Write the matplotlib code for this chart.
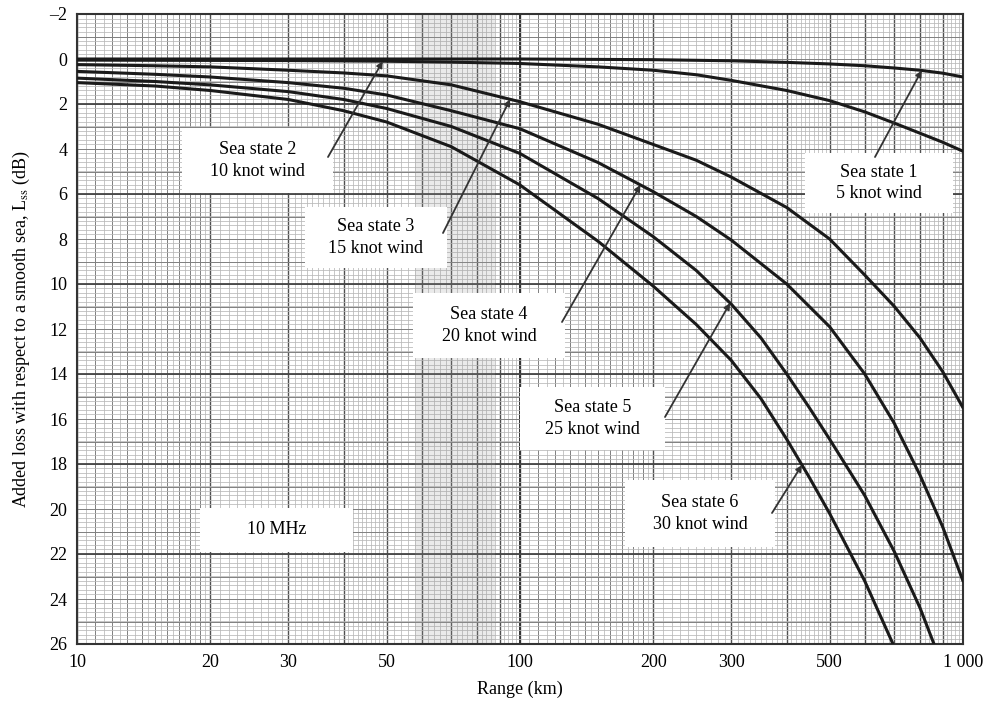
import numpy as np
import matplotlib
matplotlib.use('Agg')
import matplotlib.pyplot as plt
from matplotlib.patches import Rectangle

plt.rcParams['font.family'] = ['Liberation Serif', 'DejaVu Serif']
plt.rcParams['mathtext.fontset'] = 'stix'

# curves: range (km) -> added loss (dB)
ss1_km = [10, 50, 100, 200, 300, 400, 500, 600, 700, 800, 900, 1000]
ss1_db = [0, 0, 0, 0.03, 0.08, 0.15, 0.22, 0.3, 0.4, 0.5, 0.63, 0.8]

ss2_km = [10, 30, 50, 70, 100, 150, 200, 250, 300, 400, 500, 600, 700, 800, 900, 1000]
ss2_db = [0.05, 0.07, 0.1, 0.14, 0.2, 0.35, 0.5, 0.7, 0.95, 1.4, 1.85, 2.35, 2.85, 3.3, 3.7, 4.1]

ss3_km = [10, 15, 20, 30, 40, 50, 70, 100, 150, 200, 250, 300, 400, 500, 600, 700, 800, 900, 1000]
ss3_db = [0.25, 0.3, 0.35, 0.5, 0.62, 0.75, 1.15, 1.9, 2.9, 3.8, 4.5, 5.25, 6.6, 8.0, 9.6, 11.0, 12.4, 13.9, 15.5]

ss4_km = [10, 15, 20, 30, 40, 50, 70, 100, 150, 200, 250, 300, 400, 500, 600, 700, 800, 900, 1000]
ss4_db = [0.55, 0.68, 0.8, 1.05, 1.3, 1.6, 2.3, 3.1, 4.6, 5.9, 7.0, 8.05, 10.0, 11.9, 14.0, 16.2, 18.5, 20.8, 23.2]

ss5_km = [10, 15, 20, 30, 40, 50, 70, 100, 150, 200, 250, 300, 350, 400, 450, 500, 600, 700, 800, 860]
ss5_db = [0.85, 1.0, 1.15, 1.45, 1.8, 2.2, 3.0, 4.2, 6.2, 7.9, 9.4, 10.9, 12.4, 14.0, 15.5, 16.9, 19.4, 21.9, 24.4, 26.0]

ss6_km = [10, 15, 20, 30, 40, 50, 70, 100, 150, 200, 250, 300, 350, 400, 450, 500, 600, 695]
ss6_db = [1.05, 1.2, 1.4, 1.8, 2.3, 2.8, 3.9, 5.6, 8.1, 10.1, 11.8, 13.4, 15.1, 16.9, 18.6, 20.2, 23.2, 26.0]

labels = ['Sea state 1\n5 knot wind', 'Sea state 2\n10 knot wind', 'Sea state 3\n15 knot wind',
          'Sea state 4\n20 knot wind', 'Sea state 5\n25 knot wind', 'Sea state 6\n30 knot wind']
arrow_km = [807, 49, 95, 187, 298, 433]   # where each pointer touches its curve

xticks = [10, 20, 30, 50, 100, 200, 300, 500, 1000]
xticklabels = ['10', '20', '30', '50', '100', '200', '300', '500', '1 000']
yticks = list(range(-2, 27, 2))

series = [(ss1_km, ss1_db), (ss2_km, ss2_db), (ss3_km, ss3_db),
          (ss4_km, ss4_db), (ss5_km, ss5_db), (ss6_km, ss6_db)]

fig = plt.figure(figsize=(9.83, 7.04), dpi=100)
W, H = 983, 704
L, R, T, B = 77, 963, 14, 644
ax = fig.add_axes([L / W, 1 - B / H, (R - L) / W, (B - T) / H])
ax.set_xscale('log')
ax.set_xlim(10, 1000)
ax.set_ylim(26, -2)

# graph paper
for d in [10, 100]:
    fine = np.concatenate([np.arange(1, 2, 0.05), np.arange(2, 5, 0.1), np.arange(5, 10, 0.2)]) * d
    for v in fine:
        ax.axvline(v, color='#b8b8b8', lw=0.55, zorder=0)
    for v in np.arange(1, 2, 0.1) * d:
        ax.axvline(v, color='#808080', lw=0.7, zorder=0)
    for v in np.arange(1, 10, 1) * d:
        ax.axvline(v, color='#505050', lw=1.0, zorder=0)
ax.axvline(100, color='#333333', lw=1.4, zorder=0)
for v in np.arange(-2, 26, 0.2):
    ax.axhline(v, color='#b8b8b8', lw=0.55, zorder=0)
for v in np.arange(-2, 26, 1):
    ax.axhline(v, color='#808080', lw=0.7, zorder=0)
for v in np.arange(-2, 27, 4):
    ax.axhline(v, color='#444444', lw=1.3, zorder=0)
ax.axvspan(58, 88, color='#9a9a9a', alpha=0.2, lw=0, zorder=0)

for km, db in series:
    ax.plot(km, db, color='#1a1a1a', lw=2.2, zorder=3, solid_capstyle='round')


def fx(px):
    return (px - L) / (R - L)


def fy(py):
    return 1 - (py - T) / (B - T)


# label boxes in pixel coordinates of the reference: (x0, y0, x1, y1)
boxes = [(805, 153, 953, 213), (182, 128, 333, 193), (305, 207, 447, 268),
         (413, 293, 565, 358), (520, 387, 665, 450), (625, 480, 775, 547)]
tails = [(875, 157), (328, 157), (443, 233), (562, 322), (665, 417), (772, 513)]

for (x0, y0, x1, y1), text, tail, kx, (km, db) in zip(boxes, labels, tails, arrow_km, series):
    ax.add_patch(Rectangle((fx(x0), fy(y1)), fx(x1) - fx(x0), fy(y0) - fy(y1),
                           transform=ax.transAxes, facecolor='white', edgecolor='none', zorder=4))
    ax.text((fx(x0) + fx(x1)) / 2, (fy(y0) + fy(y1)) / 2, text, transform=ax.transAxes,
            ha='center', va='center', fontsize=13, linespacing=1.35, zorder=5)
    tip_y = np.interp(np.log10(kx), np.log10(km), db)
    ax.annotate('', xy=(kx, tip_y), xycoords='data',
                xytext=(fx(tail[0]), fy(tail[1])), textcoords='axes fraction',
                arrowprops=dict(arrowstyle='-|>', color='#333333', lw=1.3, mutation_scale=9,
                                shrinkA=0, shrinkB=0), zorder=5)

ax.add_patch(Rectangle((fx(200), fy(552)), fx(353) - fx(200), fy(508) - fy(552),
                       transform=ax.transAxes, facecolor='white', edgecolor='none', zorder=4))
ax.text((fx(200) + fx(353)) / 2, (fy(508) + fy(552)) / 2, '10 MHz', transform=ax.transAxes,
        ha='center', va='center', fontsize=13, zorder=5)

ax.set_xticks(xticks)
ax.set_xticklabels(xticklabels)
ax.xaxis.set_minor_locator(matplotlib.ticker.NullLocator())
ax.set_yticks(yticks)
ax.set_yticklabels([str(t).replace('-', '\u2013') for t in yticks])
ax.tick_params(axis='both', length=0, labelsize=13, pad=7)
for s in ax.spines.values():
    s.set_color('#333333')
    s.set_linewidth(1.5)

ax.set_xlabel('Range (km)', fontsize=13, labelpad=7)
ax.set_ylabel(r'Added loss with respect to a smooth sea, L$_{\rm ss}$ (dB)', fontsize=13, labelpad=12)

fig.savefig('out.png', dpi=100)
